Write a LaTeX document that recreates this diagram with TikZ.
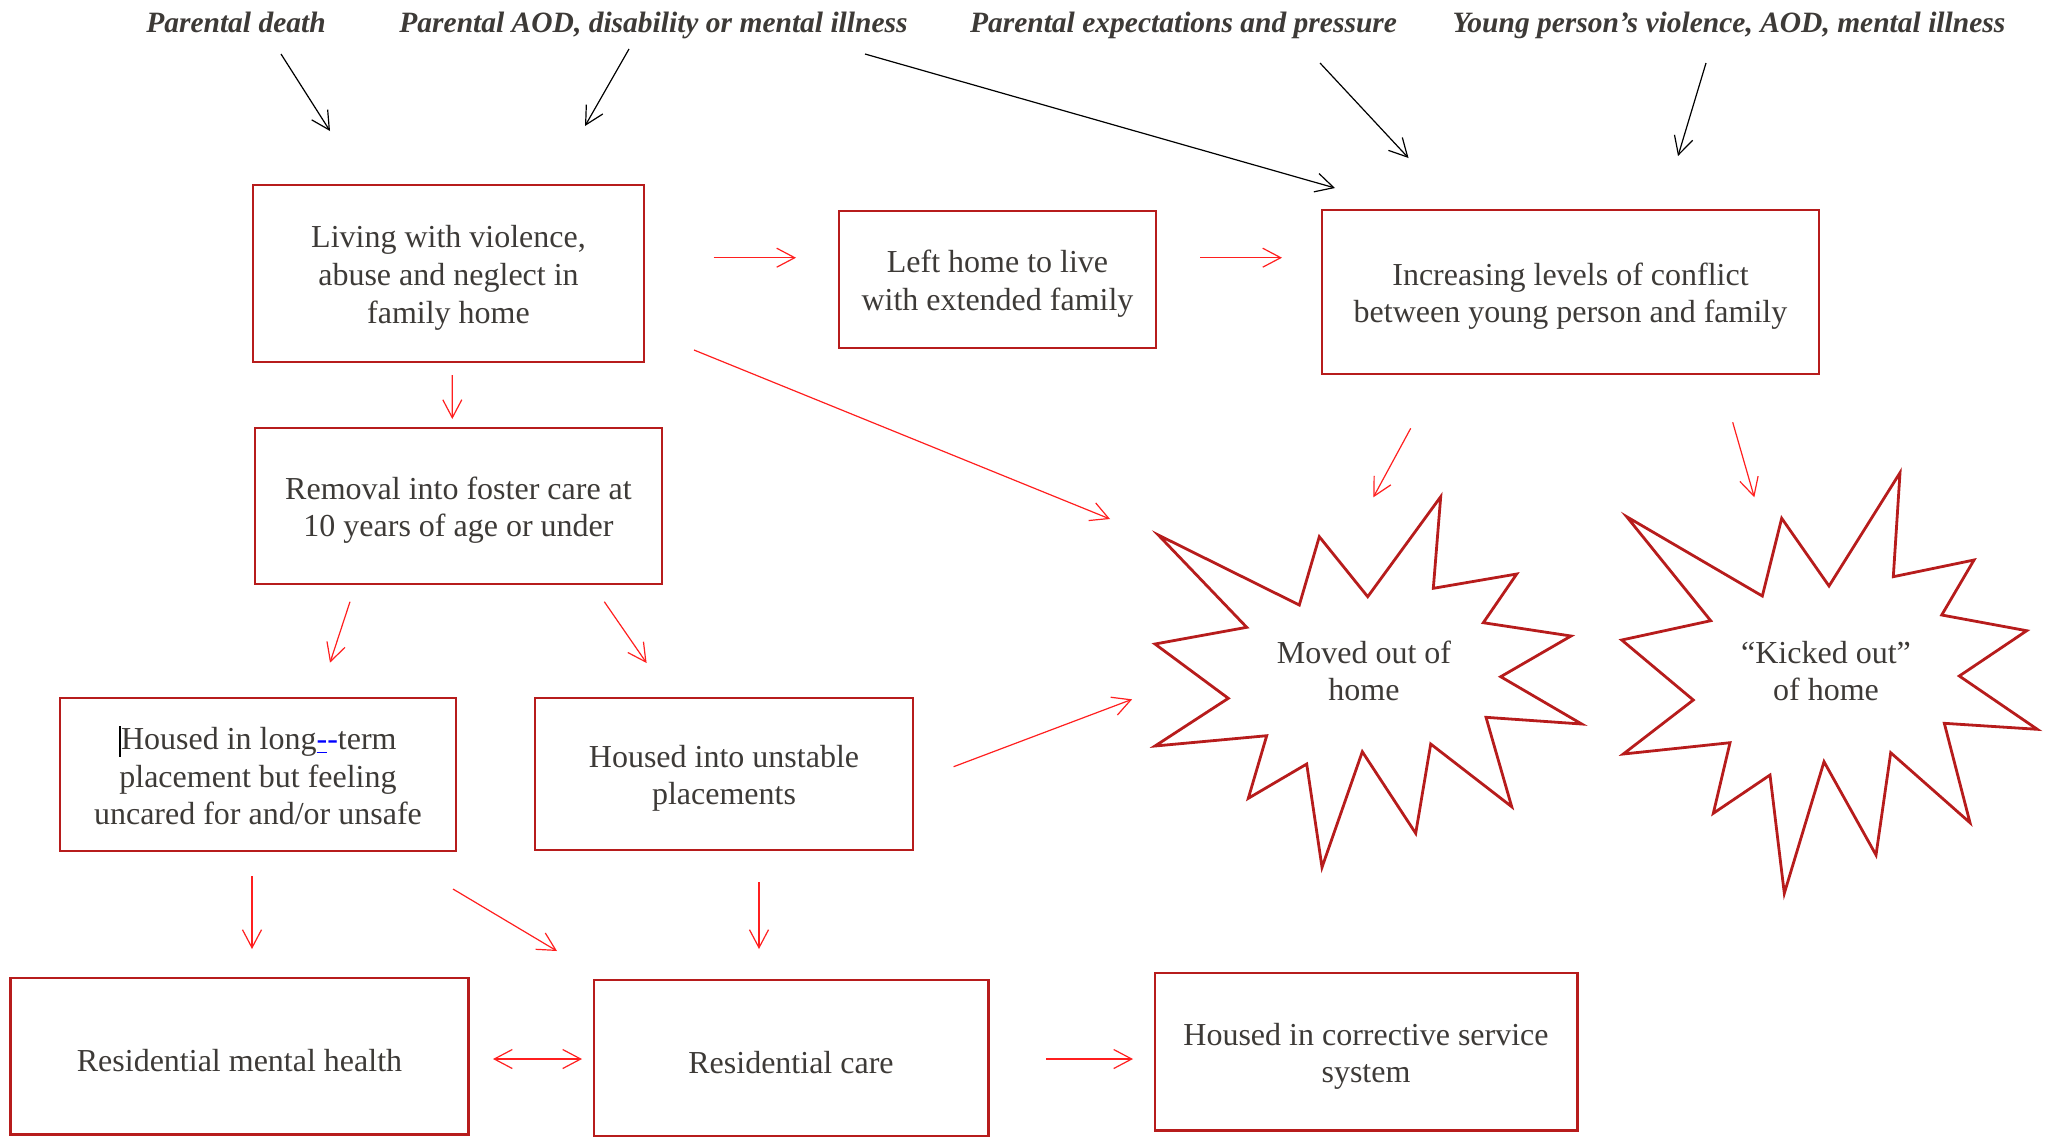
\documentclass[tikz,border=0pt]{standalone}
\usepackage{fontspec}
\setmainfont{Liberation Serif}
\usetikzlibrary{arrows.meta}
\definecolor{boxred}{HTML}{B71C1C}
\definecolor{arrred}{HTML}{FF1F1F}
\definecolor{txt}{HTML}{3D3A37}
\newcommand\topstrut{\rule{0pt}{15.5pt}}
\begin{document}
\begin{tikzpicture}[x=0.5pt,y=-0.5pt,
  box/.style={draw=boxred,line width=1.25pt,align=center,text=txt,inner sep=0pt,font=\fontsize{16}{18.8}\selectfont},
  lbl/.style={anchor=base,text=txt,font=\fontsize{14.75}{17}\selectfont\bfseries\itshape,inner sep=0pt},
  startxt/.style={align=center,text=txt,inner sep=0pt,font=\fontsize{16}{18.8}\selectfont},
  ra/.style={draw=arrred,line width=0.6pt,-{Straight Barb[length=9pt,width=9.5pt]}},
  rab/.style={draw=arrred,line width=0.6pt,{Straight Barb[length=9pt,width=9.5pt]}-{Straight Barb[length=9pt,width=9.5pt]}},
  ba/.style={draw=black,line width=0.6pt,-{Straight Barb[length=9pt,width=9.5pt]}},
  burst/.style={draw=boxred,line width=1.4pt,line join=miter}]
\useasboundingbox (0,0) rectangle (2045,1137);

% top labels
\node[lbl] (t1) at (236,32) {Parental death};
\node[lbl] (t2) at (653.5,32) {Parental AOD, disability or mental illness};
\node[lbl] (t3) at (1183.5,32) {Parental expectations and pressure};
\node[lbl] (t4) at (1729,32) {Young person’s violence, AOD, mental illness};

% boxes
\node[box,minimum width=195.5pt,minimum height=88.5pt] (living) at (448.5,273.5) {\topstrut Living with violence,\\abuse and neglect in\\family home};
\node[box,minimum width=158.5pt,minimum height=68.5pt] (lefthome) at (997.5,279.5) {\topstrut Left home to live\\with extended family};
\node[box,minimum width=248.5pt,minimum height=82pt] (increasing) at (1570.5,292) {\topstrut Increasing levels of conflict\\between young person and family};
\node[box,minimum width=203.5pt,minimum height=78pt] (removal) at (458.5,506) {\topstrut Removal into foster care at\\10 years of age or under};
\node[box,minimum width=198pt,minimum height=76.5pt] (longterm) at (258,774.5) {\rule{0pt}{12.9pt}{\color{black}\rule[-0.22em]{0.8pt}{0.95em}}Housed in long\textcolor{blue}{\underline{-}-}term\\placement but feeling\\uncared for and/or unsafe};
\node[box,minimum width=189pt,minimum height=76pt] (unstable) at (724,774) {\topstrut Housed into unstable\\placements};
\node[box,minimum width=229pt,minimum height=78.25pt] (resmh) at (239.5,1056) {\topstrut Residential mental health};
\node[box,minimum width=197.25pt,minimum height=78pt] (rescare) at (791,1058) {\topstrut Residential care};
\node[box,minimum width=211.25pt,minimum height=78.75pt] (corrective) at (1366,1051.75) {\topstrut Housed in corrective service\\system};

% bursts
\draw[burst] (1158.3,535) -- (1299.3,605) -- (1319.3,536.7) -- (1367.7,596.7) -- (1440.7,496.7) -- (1433.3,588.3) -- (1516.7,574) -- (1483.3,622.7) -- (1571,636) -- (1500.7,676.7) -- (1581.7,724) -- (1486,717.3) -- (1511.7,806.7) -- (1430.7,744) -- (1415.7,833.3) -- (1362.3,751.7) -- (1322,867.3) -- (1306.7,764) -- (1248.3,798.3) -- (1266.7,735.7) -- (1155,746) -- (1228.3,698.3) -- (1155,644) -- (1246.7,627.3) -- cycle;
\node[startxt] (moved) at (1364,671) {Moved out of\\home};

\draw[burst] (1626.7,516.7) -- (1762.3,596) -- (1781.7,518.3) -- (1829,586) -- (1900,472.7) -- (1893.3,576.7) -- (1974,560) -- (1941.7,615) -- (2026.7,630.7) -- (1959.3,676) -- (2037.3,729.3) -- (1944.3,723.3) -- (1970,822.7) -- (1890.7,752.7) -- (1876,855) -- (1824,761.7) -- (1784.3,893.3) -- (1770,775) -- (1713.3,813.3) -- (1730,742.7) -- (1623.3,754) -- (1693.3,700) -- (1621.7,640) -- (1710.7,620.7) -- cycle;
\node[startxt] (kicked) at (1826,671) {“Kicked out”\\of home};

% black arrows
\draw[ba] ([shift={(45,22)}]t1.base) -- ([shift={(-118.5,-142.5)}]living.center);
\draw[ba] ([shift={(-24.5,17)}]t2.base) -- ([shift={(136.5,-147.5)}]living.center);
\draw[ba] ([shift={(211.5,22)}]t2.base) -- ([shift={(-235.5,-104)}]increasing.center);
\draw[ba] ([shift={(136.5,31)}]t3.base) -- ([shift={(-162,-134)}]increasing.center);
\draw[ba] ([shift={(-23,31)}]t4.base) -- ([shift={(107.5,-136)}]increasing.center);

% red arrows
\draw[ra] ([shift={(265,-15.8)}]living.center) -- ([shift={(-201.5,-21.8)}]lefthome.center);
\draw[ra] ([shift={(202.5,-21.8)}]lefthome.center) -- ([shift={(-288.5,-34.3)}]increasing.center);
\draw[ra] ([shift={(3.8,101.5)}]living.center) -- ([shift={(-6.2,-87)}]removal.center);
\draw[ra] ([shift={(245.5,76.5)}]living.center) -- ([shift={(-254,-152)}]moved.center);
\draw[ra] ([shift={(-159.8,136.3)}]increasing.center) -- ([shift={(9.3,-173.7)}]moved.center);
\draw[ra] ([shift={(162.2,130.3)}]increasing.center) -- ([shift={(-71.7,-173.7)}]kicked.center);
\draw[ra] ([shift={(-108.5,95.7)}]removal.center) -- ([shift={(72,-111.8)}]longterm.center);
\draw[ra] ([shift={(145.8,95.7)}]removal.center) -- ([shift={(-77.4,-111)}]unstable.center);
\draw[ra] ([shift={(229.6,-7.3)}]unstable.center) -- ([shift={(-231.9,28.3)}]moved.center);
\draw[ra] ([shift={(-6,101.5)}]longterm.center) -- ([shift={(12.5,-107)}]resmh.center);
\draw[ra] ([shift={(195,114.5)}]longterm.center) -- ([shift={(-234,-107)}]rescare.center);
\draw[ra] ([shift={(35,108)}]unstable.center) -- ([shift={(-32,-109)}]rescare.center);
\draw[rab] ([shift={(253.5,3)}]resmh.center) -- ([shift={(-209,1)}]rescare.center);
\draw[ra] ([shift={(255,1)}]rescare.center) -- ([shift={(-233,7.25)}]corrective.center);
\end{tikzpicture}
\end{document}
